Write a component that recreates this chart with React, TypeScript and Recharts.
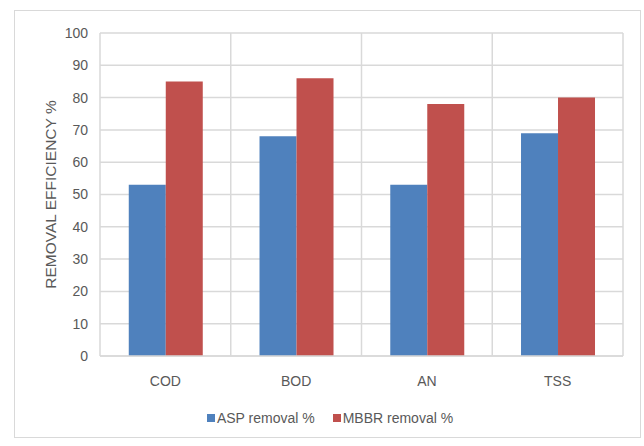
import React from 'react';
import { BarChart, Bar, XAxis, YAxis, CartesianGrid } from 'recharts';

const categories = ['COD', 'BOD', 'AN', 'TSS'];
const aspRemoval = [53, 68, 53, 69];
const mbbrRemoval = [85, 86, 78, 80];
const yTicks = [0, 10, 20, 30, 40, 50, 60, 70, 80, 90, 100];

const data = categories.map((name, i) => ({
  name,
  asp: aspRemoval[i],
  mbbr: mbbrRemoval[i],
}));

const FONT = '"Liberation Sans Narrow", "Liberation Sans", Arial, sans-serif';
const TEXT = '#595959';
const GRID = '#D9D9D9';

const legendItems = [
  { label: 'ASP removal %', color: '#4F81BD' },
  { label: 'MBBR removal %', color: '#C0504D' },
];

// vertical grid lines sit on category boundaries rather than tick centres
const boundaryLines = (props: any) => {
  const { offset } = props;
  const n = categories.length;
  const step = offset.width / n;
  const out: number[] = [];
  for (let i = 0; i <= n; i++) out.push(offset.left + step * i);
  return out;
};

export default function App() {
  return (
    <div style={{ position: 'absolute', left: 0, top: 0, width: 644, height: 446, background: '#fff' }}>
      <div
        style={{
          position: 'absolute',
          left: 14,
          top: 10,
          width: 627,
          height: 428,
          border: `1px solid ${GRID}`,
          boxSizing: 'border-box',
        }}
      />
      <div style={{ position: 'absolute', left: 0, top: 0 }}>
        <BarChart
          width={644}
          height={446}
          data={data}
          margin={{ top: 33, right: 21, bottom: 50, left: 30 }}
          barCategoryGap="22%"
          barGap={0}
        >
          <CartesianGrid stroke={GRID} strokeWidth={1.5} verticalCoordinatesGenerator={boundaryLines} />
          <XAxis
            dataKey="name"
            height={40}
            axisLine={{ stroke: GRID, strokeWidth: 1.5 }}
            tickLine={false}
            tick={{ fill: TEXT, fontSize: 14, fontFamily: FONT }}
            tickMargin={14}
          />
          <YAxis
            domain={[0, 100]}
            ticks={yTicks}
            width={70}
            axisLine={false}
            tickLine={false}
            tick={{ fill: TEXT, fontSize: 14, fontFamily: FONT }}
            tickMargin={6}
            label={{
              value: 'REMOVAL EFFICIENCY %',
              angle: -90,
              position: 'insideLeft',
              offset: 20,
              style: { textAnchor: 'middle', fill: TEXT, fontSize: 15.5, fontFamily: FONT },
            }}
          />
          <Bar dataKey="asp" name="ASP removal %" fill="#4F81BD" isAnimationActive={false} />
          <Bar dataKey="mbbr" name="MBBR removal %" fill="#C0504D" isAnimationActive={false} />
        </BarChart>
      </div>
      <div
        style={{
          position: 'absolute',
          left: 0,
          top: 410,
          width: 660,
          display: 'flex',
          justifyContent: 'center',
          gap: 18,
          fontFamily: FONT,
          fontSize: 14,
          color: TEXT,
        }}
      >
        {legendItems.map((e) => (
          <span key={e.label} style={{ display: 'flex', alignItems: 'center' }}>
            <span
              style={{ width: 8, height: 8, background: e.color, display: 'inline-block', marginRight: 2 }}
            />
            {e.label}
          </span>
        ))}
      </div>
    </div>
  );
}
